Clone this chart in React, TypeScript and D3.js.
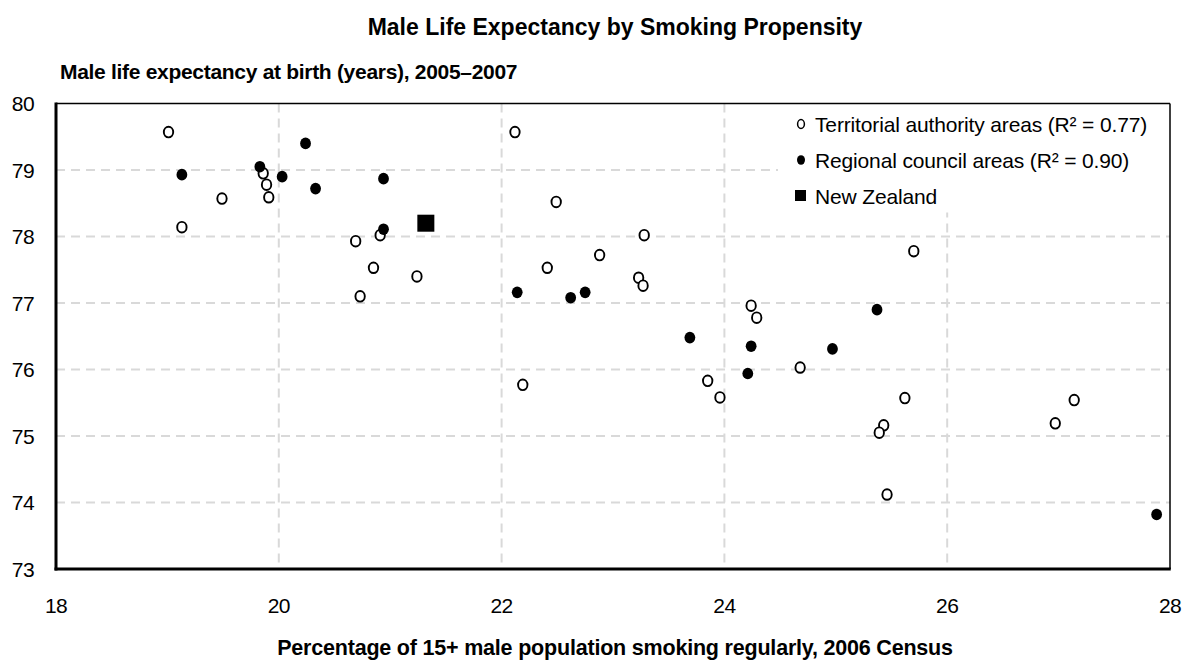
import React from "react";
import * as d3 from "d3";

const taX = [19.01, 19.86, 19.89, 19.91, 19.49, 19.13, 20.69, 20.91, 20.85, 20.73, 21.24, 22.12, 22.49, 22.41, 22.88, 23.28, 23.23, 23.27, 24.24, 24.29, 25.70, 24.68, 23.85, 23.96, 25.43, 25.39, 25.62, 25.46, 26.97, 27.14, 22.19];
const taY = [79.57, 78.95, 78.78, 78.59, 78.57, 78.14, 77.93, 78.02, 77.53, 77.10, 77.40, 79.57, 78.52, 77.53, 77.72, 78.02, 77.38, 77.26, 76.96, 76.78, 77.78, 76.03, 75.83, 75.58, 75.16, 75.05, 75.57, 74.12, 75.19, 75.54, 75.77];
const rcX = [19.13, 19.83, 20.03, 20.24, 20.33, 20.94, 20.94, 22.14, 22.62, 22.75, 23.69, 24.24, 24.21, 24.97, 25.37, 27.88];
const rcY = [78.93, 79.05, 78.90, 79.40, 78.72, 78.87, 78.11, 77.16, 77.08, 77.16, 76.48, 76.35, 75.94, 76.31, 76.90, 73.82];
const nzX = [21.32];
const nzY = [78.2];
const xTicks = [18, 20, 22, 24, 26, 28];
const yTicks = [73, 74, 75, 76, 77, 78, 79, 80];
const legendLabels = [
  "Territorial authority areas (R\u00B2 = 0.77)",
  "Regional council areas (R\u00B2 = 0.90)",
  "New Zealand",
];

const FONT = "'Liberation Sans', Arial, sans-serif";

export default function App() {
  const W = 1190, H = 665;
  const left = 56, right = 1170, top = 103.5, bottom = 569;
  const x = d3.scaleLinear().domain([18, 28]).range([left, right]);
  const y = d3.scaleLinear().domain([73, 80]).range([bottom, top]);
  const lgX = 778, lgY = top, lgW = right - lgX, lgH = 109;

  return (
    <svg width={W} height={H} style={{ position: "absolute", left: 0, top: 0, background: "#fff" }} fontFamily={FONT}>
      <rect x={0} y={0} width={W} height={H} fill="#fff" />
      <text x={615} y={35} textAnchor="middle" fontSize={23} fontWeight="bold" fill="#000">
        Male Life Expectancy by Smoking Propensity
      </text>
      <text x={60} y={79} fontSize={21} fontWeight="bold" fill="#000" letterSpacing={-0.3}>
        Male life expectancy at birth (years), 2005–2007
      </text>
      {/* gridlines */}
      {yTicks.filter(t => t > 73 && t < 80).map(t => (
        <line key={"gy" + t} x1={left} x2={right} y1={y(t)} y2={y(t)} stroke="#d9d9d9" strokeWidth={2} strokeDasharray="9,6" />
      ))}
      {xTicks.filter(t => t > 18 && t < 28).map(t => (
        <line key={"gx" + t} x1={x(t)} x2={x(t)} y1={top} y2={bottom} stroke="#d9d9d9" strokeWidth={2} strokeDasharray="9,6" />
      ))}
      {/* legend background */}
      <rect x={lgX} y={lgY} width={lgW} height={lgH} fill="#fff" />
      {/* plot border */}
      <line x1={left} x2={right} y1={top} y2={top} stroke="#000" strokeWidth={1.5} />
      <line x1={right} x2={right} y1={top} y2={bottom} stroke="#000" strokeWidth={1.5} />
      <line x1={left} x2={left} y1={top - 1} y2={bottom + 1.5} stroke="#000" strokeWidth={3} />
      <line x1={left - 1.5} x2={right + 0.75} y1={bottom} y2={bottom} stroke="#000" strokeWidth={3} />
      {/* tick labels */}
      {yTicks.map(t => (
        <text key={"yl" + t} x={34} y={y(t)} dy="0.36em" textAnchor="end" fontSize={21} fill="#000" letterSpacing={-0.6}>{t}</text>
      ))}
      {xTicks.map(t => (
        <text key={"xl" + t} x={x(t)} y={613} textAnchor="middle" fontSize={21} fill="#000" letterSpacing={-0.6}>{t}</text>
      ))}
      {/* points */}
      {taX.map((v, i) => (
        <ellipse key={"ta" + i} cx={x(v)} cy={y(taY[i])} rx={4.7} ry={5.3} fill="#fff" stroke="#000" strokeWidth={1.9} />
      ))}
      {rcX.map((v, i) => (
        <ellipse key={"rc" + i} cx={x(v)} cy={y(rcY[i])} rx={5.4} ry={5.8} fill="#000" />
      ))}
      {nzX.map((v, i) => (
        <rect key={"nz" + i} x={x(v) - 8.5} y={y(nzY[i]) - 8.5} width={17} height={17} fill="#000" />
      ))}
      {/* legend */}
      <g fontSize={21} fill="#000" letterSpacing={-0.15}>
        <ellipse cx={801} cy={124} rx={3.4} ry={4.4} fill="#fff" stroke="#000" strokeWidth={1.5} />
        <text x={815} y={124} dy="0.36em">{legendLabels[0]}</text>
        <ellipse cx={801} cy={160} rx={4} ry={4.8} fill="#000" />
        <text x={815} y={160} dy="0.36em">{legendLabels[1]}</text>
        <rect x={795} y={190} width={11} height={11} fill="#000" />
        <text x={815} y={196} dy="0.36em">{legendLabels[2]}</text>
      </g>
      <text x={615} y={655} textAnchor="middle" fontSize={21.5} fontWeight="bold" fill="#000" letterSpacing={-0.2}>
        Percentage of 15+ male population smoking regularly, 2006 Census
      </text>
    </svg>
  );
}
